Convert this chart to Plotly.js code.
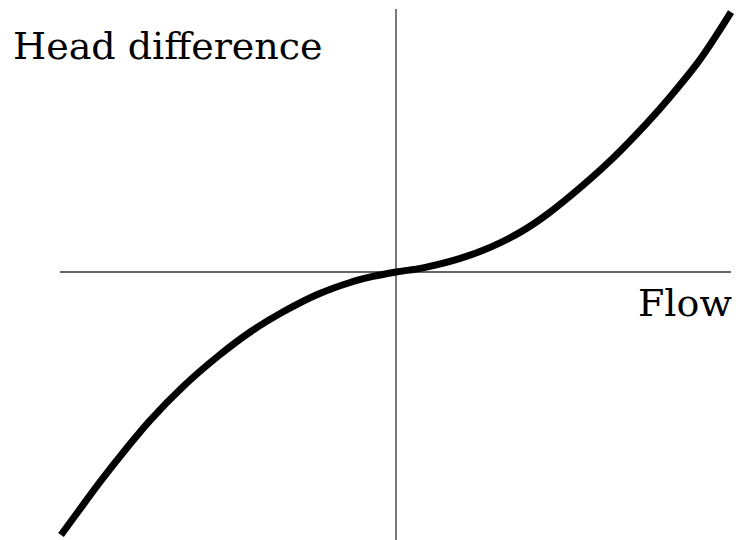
<!DOCTYPE html>
<html>
<head>
<meta charset="utf-8">
<script src="https://cdn.plot.ly/plotly-3.0.1.min.js"></script>
<style>
  html, body { margin: 0; padding: 0; background: #fff; }
  #chart { width: 739px; height: 540px; }
</style>
</head>
<body>
<div id="chart"></div>
<script>
// Pump characteristic sketch: head difference against flow (normalised units)
const flow = [-1.000, -0.952, -0.884, -0.803, -0.734, -0.633, -0.531, -0.433, -0.334, -0.233, -0.137, -0.069, 0.000,
              0.081, 0.182, 0.281, 0.379, 0.451, 0.549, 0.648, 0.749, 0.818, 0.899, 0.958, 1.000];
const headDifference = [-1.004, -0.920, -0.802, -0.671, -0.566, -0.434, -0.321, -0.227, -0.150, -0.085, -0.040, -0.017, 0.000,
                        0.016, 0.048, 0.094, 0.158, 0.220, 0.321, 0.435, 0.568, 0.668, 0.796, 0.907, 0.992];

const xLabel = 'Flow';
const yLabel = 'Head difference';

const W = 739, H = 540;
const xRange = [-1.1821, 1.0239];
const yRange = [-1.0229, 1.0382];

const trace = {
  x: flow,
  y: headDifference,
  type: 'scatter',
  mode: 'lines',
  line: { color: '#000', width: 7, shape: 'spline', smoothing: 1 },
  hoverinfo: 'skip'
};

const axisLine = { color: '#333', width: 1.3 };
const serif = { family: 'DejaVu Serif', size: 38, color: '#000' };

const layout = {
  width: W,
  height: H,
  margin: { l: 0, r: 0, t: 0, b: 0 },
  paper_bgcolor: '#fff',
  plot_bgcolor: '#fff',
  showlegend: false,
  xaxis: { range: xRange, visible: false, fixedrange: true },
  yaxis: { range: yRange, visible: false, fixedrange: true },
  shapes: [
    { type: 'line', xref: 'x', yref: 'y', x0: -1.003, x1: 1.0, y0: 0, y1: 0, line: axisLine, layer: 'below' },
    { type: 'line', xref: 'x', yref: 'y', x0: 0, x1: 0, y0: 1.004, y1: -1.06, line: axisLine, layer: 'below' }
  ],
  annotations: [
    { xref: 'paper', yref: 'paper', x: 167.5 / W, y: 1 - 46 / H, xanchor: 'center', yanchor: 'middle',
      text: yLabel, showarrow: false, font: serif },
    { xref: 'paper', yref: 'paper', x: 684.5 / W, y: 1 - 303 / H, xanchor: 'center', yanchor: 'middle',
      text: xLabel, showarrow: false, font: serif }
  ]
};

Plotly.newPlot('chart', [trace], layout, { displayModeBar: false, staticPlot: true });
</script>
</body>
</html>
